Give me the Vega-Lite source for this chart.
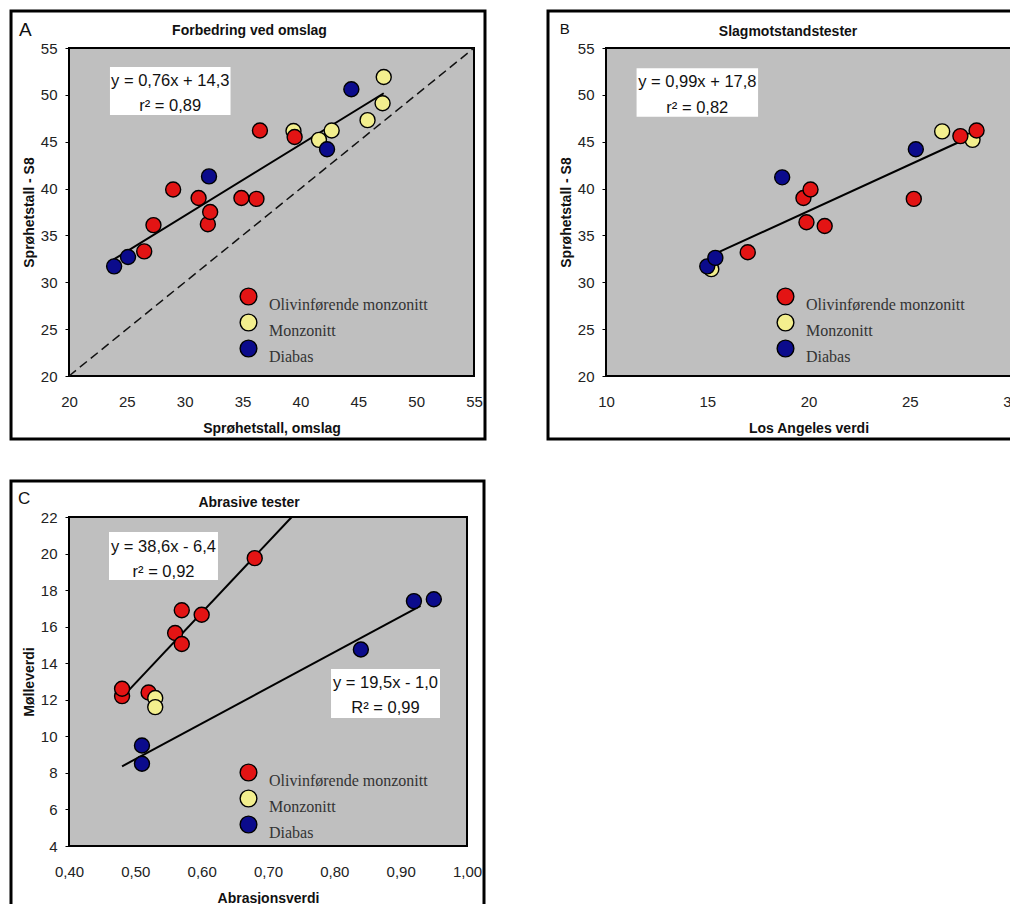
{
  "$schema": "https://vega.github.io/schema/vega-lite/v6.json",
  "padding": {"left": 8, "top": 8, "right": 0, "bottom": 0},
  "background": "white",
  "datasets": {
    "ptsA": [
      {"x": 39.4, "y": 46.15, "bergart": "Monzonitt"},
      {"x": 41.6, "y": 45.2, "bergart": "Monzonitt"},
      {"x": 42.7, "y": 46.2, "bergart": "Monzonitt"},
      {"x": 45.8, "y": 47.3, "bergart": "Monzonitt"},
      {"x": 47.1, "y": 49.1, "bergart": "Monzonitt"},
      {"x": 47.2, "y": 51.9, "bergart": "Monzonitt"},
      {"x": 23.9, "y": 31.7, "bergart": "Diabas"},
      {"x": 25.1, "y": 32.7, "bergart": "Diabas"},
      {"x": 32.1, "y": 41.3, "bergart": "Diabas"},
      {"x": 42.3, "y": 44.2, "bergart": "Diabas"},
      {"x": 44.4, "y": 50.6, "bergart": "Diabas"},
      {"x": 26.5, "y": 33.3, "bergart": "Olivinførende monzonitt"},
      {"x": 27.3, "y": 36.1, "bergart": "Olivinførende monzonitt"},
      {"x": 29.0, "y": 39.9, "bergart": "Olivinførende monzonitt"},
      {"x": 31.2, "y": 39.0, "bergart": "Olivinførende monzonitt"},
      {"x": 32.0, "y": 36.2, "bergart": "Olivinførende monzonitt"},
      {"x": 32.2, "y": 37.5, "bergart": "Olivinførende monzonitt"},
      {"x": 34.9, "y": 39.0, "bergart": "Olivinførende monzonitt"},
      {"x": 36.2, "y": 38.9, "bergart": "Olivinførende monzonitt"},
      {"x": 36.5, "y": 46.2, "bergart": "Olivinførende monzonitt"},
      {"x": 39.5, "y": 45.5, "bergart": "Olivinførende monzonitt"}
    ],
    "ptsB": [
      {"x": 15.2, "y": 31.4, "bergart": "Monzonitt"},
      {"x": 26.6, "y": 46.1, "bergart": "Monzonitt"},
      {"x": 28.1, "y": 45.2, "bergart": "Monzonitt"},
      {"x": 15.0, "y": 31.7, "bergart": "Diabas"},
      {"x": 15.4, "y": 32.6, "bergart": "Diabas"},
      {"x": 18.7, "y": 41.2, "bergart": "Diabas"},
      {"x": 25.3, "y": 44.2, "bergart": "Diabas"},
      {"x": 17.0, "y": 33.2, "bergart": "Olivinførende monzonitt"},
      {"x": 19.75, "y": 39.0, "bergart": "Olivinførende monzonitt"},
      {"x": 20.1, "y": 39.9, "bergart": "Olivinførende monzonitt"},
      {"x": 19.9, "y": 36.4, "bergart": "Olivinførende monzonitt"},
      {"x": 20.8, "y": 36.0, "bergart": "Olivinførende monzonitt"},
      {"x": 25.2, "y": 38.9, "bergart": "Olivinførende monzonitt"},
      {"x": 27.5, "y": 45.6, "bergart": "Olivinførende monzonitt"},
      {"x": 28.3, "y": 46.2, "bergart": "Olivinførende monzonitt"}
    ],
    "ptsC": [
      {"x": 0.48, "y": 12.2, "bergart": "Olivinførende monzonitt"},
      {"x": 0.48, "y": 12.6, "bergart": "Olivinførende monzonitt"},
      {"x": 0.52, "y": 12.4, "bergart": "Olivinførende monzonitt"},
      {"x": 0.56, "y": 15.65, "bergart": "Olivinførende monzonitt"},
      {"x": 0.57, "y": 16.9, "bergart": "Olivinførende monzonitt"},
      {"x": 0.57, "y": 15.05, "bergart": "Olivinførende monzonitt"},
      {"x": 0.60, "y": 16.65, "bergart": "Olivinførende monzonitt"},
      {"x": 0.68, "y": 19.75, "bergart": "Olivinførende monzonitt"},
      {"x": 0.53, "y": 12.1, "bergart": "Monzonitt"},
      {"x": 0.53, "y": 11.6, "bergart": "Monzonitt"},
      {"x": 0.51, "y": 9.5, "bergart": "Diabas"},
      {"x": 0.51, "y": 8.5, "bergart": "Diabas"},
      {"x": 0.84, "y": 14.75, "bergart": "Diabas"},
      {"x": 0.92, "y": 17.4, "bergart": "Diabas"},
      {"x": 0.95, "y": 17.5, "bergart": "Diabas"}
    ],
    "diagA": [{"x": 20, "y": 20}, {"x": 55, "y": 55}],
    "fitA": [{"x": 23.8, "y": 32.39}, {"x": 47.2, "y": 50.17}],
    "fitB": [{"x": 15.4, "y": 33.05}, {"x": 28.3, "y": 45.82}],
    "fitC": [
      {"x": 0.48, "y": 12.13, "serie": "Olivinførende monzonitt"},
      {"x": 0.7358, "y": 22.0, "serie": "Olivinførende monzonitt"},
      {"x": 0.48, "y": 8.36, "serie": "Diabas"},
      {"x": 0.93, "y": 17.135, "serie": "Diabas"}
    ]
  },
  "vconcat": [
    {
      "hconcat": [
        {
          "width": 405,
          "height": 328,
          "layer": [
            {
              "data": {"values": [{}]},
              "mark": {"type": "rect", "filled": false, "stroke": "#000", "strokeWidth": 3},
              "encoding": {
                "x": {"datum": 14.99, "type": "quantitative", "scale": {"domain": [20, 55], "nice": false, "zero": false}, "axis": {"title": "Sprøhetstall, omslag", "values": [20, 25, 30, 35, 40, 45, 50, 55]}},
                "x2": {"datum": 55.95},
                "y": {"datum": 58.95, "type": "quantitative", "scale": {"domain": [20, 55], "nice": false, "zero": false}, "axis": {"title": "Sprøhetstall - S8", "values": [20, 25, 30, 35, 40, 45, 50, 55]}},
                "y2": {"datum": 13.28}
              }
            },
            {
              "data": {"values": [{}]},
              "mark": {"type": "text", "text": "A", "font": "Liberation Sans", "fontSize": 19, "align": "left", "baseline": "middle", "color": "#111"},
              "encoding": {
                "x": {"datum": 15.68, "type": "quantitative", "scale": {"domain": [20, 55], "nice": false, "zero": false}, "axis": {"title": "Sprøhetstall, omslag", "values": [20, 25, 30, 35, 40, 45, 50, 55]}},
                "y": {"datum": 56.92, "type": "quantitative", "scale": {"domain": [20, 55], "nice": false, "zero": false}, "axis": {"title": "Sprøhetstall - S8", "values": [20, 25, 30, 35, 40, 45, 50, 55]}}
              }
            },
            {
              "data": {"values": [{}]},
              "mark": {"type": "text", "text": "Forbedring ved omslag", "font": "Liberation Sans", "fontSize": 14, "fontWeight": "bold", "align": "center", "baseline": "middle", "color": "#111"},
              "encoding": {
                "x": {"datum": 35.6, "type": "quantitative", "scale": {"domain": [20, 55], "nice": false, "zero": false}, "axis": {"title": "Sprøhetstall, omslag", "values": [20, 25, 30, 35, 40, 45, 50, 55]}},
                "y": {"datum": 56.8, "type": "quantitative", "scale": {"domain": [20, 55], "nice": false, "zero": false}, "axis": {"title": "Sprøhetstall - S8", "values": [20, 25, 30, 35, 40, 45, 50, 55]}}
              }
            },
            {
              "data": {"name": "diagA"},
              "mark": {"type": "line", "color": "#111", "strokeWidth": 1.5, "strokeDash": [9, 5]},
              "encoding": {
                "x": {"field": "x", "type": "quantitative", "scale": {"domain": [20, 55], "nice": false, "zero": false}, "axis": {"title": "Sprøhetstall, omslag", "values": [20, 25, 30, 35, 40, 45, 50, 55]}},
                "y": {"field": "y", "type": "quantitative", "scale": {"domain": [20, 55], "nice": false, "zero": false}, "axis": {"title": "Sprøhetstall - S8", "values": [20, 25, 30, 35, 40, 45, 50, 55]}}
              }
            },
            {
              "data": {"name": "fitA"},
              "mark": {"type": "line", "color": "#000", "strokeWidth": 2},
              "encoding": {
                "x": {"field": "x", "type": "quantitative", "scale": {"domain": [20, 55], "nice": false, "zero": false}, "axis": {"title": "Sprøhetstall, omslag", "values": [20, 25, 30, 35, 40, 45, 50, 55]}},
                "y": {"field": "y", "type": "quantitative", "scale": {"domain": [20, 55], "nice": false, "zero": false}, "axis": {"title": "Sprøhetstall - S8", "values": [20, 25, 30, 35, 40, 45, 50, 55]}}
              }
            },
            {
              "data": {"values": [{}]},
              "mark": {"type": "rect", "fill": "#fff", "stroke": null},
              "encoding": {
                "x": {"datum": 23.54, "type": "quantitative", "scale": {"domain": [20, 55], "nice": false, "zero": false}, "axis": {"title": "Sprøhetstall, omslag", "values": [20, 25, 30, 35, 40, 45, 50, 55]}},
                "x2": {"datum": 33.96},
                "y": {"datum": 52.97, "type": "quantitative", "scale": {"domain": [20, 55], "nice": false, "zero": false}, "axis": {"title": "Sprøhetstall - S8", "values": [20, 25, 30, 35, 40, 45, 50, 55]}},
                "y2": {"datum": 47.85}
              }
            },
            {
              "data": {"values": [{}]},
              "mark": {"type": "text", "text": "y = 0,76x + 14,3", "font": "Liberation Sans", "fontSize": 16.5, "align": "center", "baseline": "middle", "color": "#111"},
              "encoding": {
                "x": {"datum": 28.75, "type": "quantitative", "scale": {"domain": [20, 55], "nice": false, "zero": false}, "axis": {"title": "Sprøhetstall, omslag", "values": [20, 25, 30, 35, 40, 45, 50, 55]}},
                "y": {"datum": 51.53, "type": "quantitative", "scale": {"domain": [20, 55], "nice": false, "zero": false}, "axis": {"title": "Sprøhetstall - S8", "values": [20, 25, 30, 35, 40, 45, 50, 55]}}
              }
            },
            {
              "data": {"values": [{}]},
              "mark": {"type": "text", "text": "r² = 0,89", "font": "Liberation Sans", "fontSize": 16.5, "align": "center", "baseline": "middle", "color": "#111"},
              "encoding": {
                "x": {"datum": 28.75, "type": "quantitative", "scale": {"domain": [20, 55], "nice": false, "zero": false}, "axis": {"title": "Sprøhetstall, omslag", "values": [20, 25, 30, 35, 40, 45, 50, 55]}},
                "y": {"datum": 48.81, "type": "quantitative", "scale": {"domain": [20, 55], "nice": false, "zero": false}, "axis": {"title": "Sprøhetstall - S8", "values": [20, 25, 30, 35, 40, 45, 50, 55]}}
              }
            },
            {
              "data": {"name": "ptsA"},
              "mark": {"type": "point", "filled": true, "size": 225, "stroke": "#000", "strokeWidth": 1.4, "opacity": 1},
              "encoding": {
                "x": {"field": "x", "type": "quantitative", "scale": {"domain": [20, 55], "nice": false, "zero": false}, "axis": {"title": "Sprøhetstall, omslag", "values": [20, 25, 30, 35, 40, 45, 50, 55]}},
                "y": {"field": "y", "type": "quantitative", "scale": {"domain": [20, 55], "nice": false, "zero": false}, "axis": {"title": "Sprøhetstall - S8", "values": [20, 25, 30, 35, 40, 45, 50, 55]}},
                "color": {
                  "field": "bergart", "type": "nominal",
                  "scale": {"domain": ["Olivinførende monzonitt", "Monzonitt", "Diabas"], "range": ["#e31414", "#f3ef8e", "#0b0b8c"]},
                  "legend": {"title": " ", "titleOrient": "right", "titlePadding": 35, "titleFontSize": 10, "orient": "bottom-right", "offset": 11}
                }
              }
            }
          ]
        },
        {
          "width": 405,
          "height": 328,
          "layer": [
            {
              "data": {"values": [{}]},
              "mark": {"type": "rect", "filled": false, "stroke": "#000", "strokeWidth": 3},
              "encoding": {
                "x": {"datum": 7.136, "type": "quantitative", "scale": {"domain": [10, 30], "nice": false, "zero": false}, "axis": {"title": "Los Angeles verdi", "values": [10, 15, 20, 25, 30]}},
                "x2": {"datum": 30.543},
                "y": {"datum": 58.95, "type": "quantitative", "scale": {"domain": [20, 55], "nice": false, "zero": false}, "axis": {"title": "Sprøhetstall - S8", "values": [20, 25, 30, 35, 40, 45, 50, 55]}},
                "y2": {"datum": 13.28}
              }
            },
            {
              "data": {"values": [{}]},
              "mark": {"type": "text", "text": "B", "font": "Liberation Sans", "fontSize": 15, "align": "left", "baseline": "middle", "color": "#111"},
              "encoding": {
                "x": {"datum": 7.71, "type": "quantitative", "scale": {"domain": [10, 30], "nice": false, "zero": false}, "axis": {"title": "Los Angeles verdi", "values": [10, 15, 20, 25, 30]}},
                "y": {"datum": 57.03, "type": "quantitative", "scale": {"domain": [20, 55], "nice": false, "zero": false}, "axis": {"title": "Sprøhetstall - S8", "values": [20, 25, 30, 35, 40, 45, 50, 55]}}
              }
            },
            {
              "data": {"values": [{}]},
              "mark": {"type": "text", "text": "Slagmotstandstester", "font": "Liberation Sans", "fontSize": 14, "fontWeight": "bold", "align": "center", "baseline": "middle", "color": "#111"},
              "encoding": {
                "x": {"datum": 18.99, "type": "quantitative", "scale": {"domain": [10, 30], "nice": false, "zero": false}, "axis": {"title": "Los Angeles verdi", "values": [10, 15, 20, 25, 30]}},
                "y": {"datum": 56.76, "type": "quantitative", "scale": {"domain": [20, 55], "nice": false, "zero": false}, "axis": {"title": "Sprøhetstall - S8", "values": [20, 25, 30, 35, 40, 45, 50, 55]}}
              }
            },
            {
              "data": {"name": "fitB"},
              "mark": {"type": "line", "color": "#000", "strokeWidth": 2},
              "encoding": {
                "x": {"field": "x", "type": "quantitative", "scale": {"domain": [10, 30], "nice": false, "zero": false}, "axis": {"title": "Los Angeles verdi", "values": [10, 15, 20, 25, 30]}},
                "y": {"field": "y", "type": "quantitative", "scale": {"domain": [20, 55], "nice": false, "zero": false}, "axis": {"title": "Sprøhetstall - S8", "values": [20, 25, 30, 35, 40, 45, 50, 55]}}
              }
            },
            {
              "data": {"values": [{}]},
              "mark": {"type": "rect", "fill": "#fff", "stroke": null},
              "encoding": {
                "x": {"datum": 11.51, "type": "quantitative", "scale": {"domain": [10, 30], "nice": false, "zero": false}, "axis": {"title": "Los Angeles verdi", "values": [10, 15, 20, 25, 30]}},
                "x2": {"datum": 17.51},
                "y": {"datum": 52.83, "type": "quantitative", "scale": {"domain": [20, 55], "nice": false, "zero": false}, "axis": {"title": "Sprøhetstall - S8", "values": [20, 25, 30, 35, 40, 45, 50, 55]}},
                "y2": {"datum": 47.67}
              }
            },
            {
              "data": {"values": [{}]},
              "mark": {"type": "text", "text": "y = 0,99x + 17,8", "font": "Liberation Sans", "fontSize": 16.5, "align": "center", "baseline": "middle", "color": "#111"},
              "encoding": {
                "x": {"datum": 14.51, "type": "quantitative", "scale": {"domain": [10, 30], "nice": false, "zero": false}, "axis": {"title": "Los Angeles verdi", "values": [10, 15, 20, 25, 30]}},
                "y": {"datum": 51.4, "type": "quantitative", "scale": {"domain": [20, 55], "nice": false, "zero": false}, "axis": {"title": "Sprøhetstall - S8", "values": [20, 25, 30, 35, 40, 45, 50, 55]}}
              }
            },
            {
              "data": {"values": [{}]},
              "mark": {"type": "text", "text": "r² = 0,82", "font": "Liberation Sans", "fontSize": 16.5, "align": "center", "baseline": "middle", "color": "#111"},
              "encoding": {
                "x": {"datum": 14.51, "type": "quantitative", "scale": {"domain": [10, 30], "nice": false, "zero": false}, "axis": {"title": "Los Angeles verdi", "values": [10, 15, 20, 25, 30]}},
                "y": {"datum": 48.6, "type": "quantitative", "scale": {"domain": [20, 55], "nice": false, "zero": false}, "axis": {"title": "Sprøhetstall - S8", "values": [20, 25, 30, 35, 40, 45, 50, 55]}}
              }
            },
            {
              "data": {"name": "ptsB"},
              "mark": {"type": "point", "filled": true, "size": 225, "stroke": "#000", "strokeWidth": 1.4, "opacity": 1},
              "encoding": {
                "x": {"field": "x", "type": "quantitative", "scale": {"domain": [10, 30], "nice": false, "zero": false}, "axis": {"title": "Los Angeles verdi", "values": [10, 15, 20, 25, 30]}},
                "y": {"field": "y", "type": "quantitative", "scale": {"domain": [20, 55], "nice": false, "zero": false}, "axis": {"title": "Sprøhetstall - S8", "values": [20, 25, 30, 35, 40, 45, 50, 55]}},
                "color": {
                  "field": "bergart", "type": "nominal",
                  "scale": {"domain": ["Olivinførende monzonitt", "Monzonitt", "Diabas"], "range": ["#e31414", "#f3ef8e", "#0b0b8c"]},
                  "legend": {"title": " ", "titleOrient": "right", "titlePadding": 35, "titleFontSize": 10, "orient": "bottom-right", "offset": 11}
                }
              }
            }
          ]
        }
      ],
      "spacing": 57,
      "resolve": {"scale": {"color": "independent"}, "legend": {"color": "independent"}}
    },
    {
      "width": 398,
      "height": 329,
      "layer": [
        {
          "data": {"values": [{}]},
          "mark": {"type": "rect", "filled": false, "stroke": "#000", "strokeWidth": 3},
          "encoding": {
            "x": {"datum": 0.31256, "type": "quantitative", "scale": {"domain": [0.4, 1.0], "nice": false, "zero": false}, "axis": {"title": "Abrasjonsverdi", "values": [0.4, 0.5, 0.6, 0.7, 0.8, 0.9, 1.0], "labelExpr": "replace(format(datum.value, '.2f'), '.', ',')"}},
            "x2": {"datum": 1.02563},
            "y": {"datum": 23.97, "type": "quantitative", "scale": {"domain": [4, 22], "nice": false, "zero": false}, "axis": {"title": "Mølleverdi", "values": [4, 6, 8, 10, 12, 14, 16, 18, 20, 22]}},
            "y2": {"datum": 0.5533}
          }
        },
        {
          "data": {"values": [{}]},
          "mark": {"type": "text", "text": "C", "font": "Liberation Sans", "fontSize": 17, "align": "left", "baseline": "middle", "color": "#111"},
          "encoding": {
            "x": {"datum": 0.3231, "type": "quantitative", "scale": {"domain": [0.4, 1.0], "nice": false, "zero": false}, "axis": {"title": "Abrasjonsverdi", "values": [0.4, 0.5, 0.6, 0.7, 0.8, 0.9, 1.0], "labelExpr": "replace(format(datum.value, '.2f'), '.', ',')"}},
            "y": {"datum": 23.01, "type": "quantitative", "scale": {"domain": [4, 22], "nice": false, "zero": false}, "axis": {"title": "Mølleverdi", "values": [4, 6, 8, 10, 12, 14, 16, 18, 20, 22]}}
          }
        },
        {
          "data": {"values": [{}]},
          "mark": {"type": "text", "text": "Abrasive tester", "font": "Liberation Sans", "fontSize": 14, "fontWeight": "bold", "align": "center", "baseline": "middle", "color": "#111"},
          "encoding": {
            "x": {"datum": 0.6714, "type": "quantitative", "scale": {"domain": [0.4, 1.0], "nice": false, "zero": false}, "axis": {"title": "Abrasjonsverdi", "values": [0.4, 0.5, 0.6, 0.7, 0.8, 0.9, 1.0], "labelExpr": "replace(format(datum.value, '.2f'), '.', ',')"}},
            "y": {"datum": 22.79, "type": "quantitative", "scale": {"domain": [4, 22], "nice": false, "zero": false}, "axis": {"title": "Mølleverdi", "values": [4, 6, 8, 10, 12, 14, 16, 18, 20, 22]}}
          }
        },
        {
          "data": {"name": "fitC"},
          "mark": {"type": "line", "color": "#000", "strokeWidth": 2},
          "encoding": {
            "x": {"field": "x", "type": "quantitative", "scale": {"domain": [0.4, 1.0], "nice": false, "zero": false}, "axis": {"title": "Abrasjonsverdi", "values": [0.4, 0.5, 0.6, 0.7, 0.8, 0.9, 1.0], "labelExpr": "replace(format(datum.value, '.2f'), '.', ',')"}},
            "y": {"field": "y", "type": "quantitative", "scale": {"domain": [4, 22], "nice": false, "zero": false}, "axis": {"title": "Mølleverdi", "values": [4, 6, 8, 10, 12, 14, 16, 18, 20, 22]}},
            "detail": {"field": "serie", "type": "nominal"}
          }
        },
        {
          "data": {"values": [{}]},
          "mark": {"type": "rect", "fill": "#fff", "stroke": null},
          "encoding": {
            "x": {"datum": 0.4603, "type": "quantitative", "scale": {"domain": [0.4, 1.0], "nice": false, "zero": false}, "axis": {"title": "Abrasjonsverdi", "values": [0.4, 0.5, 0.6, 0.7, 0.8, 0.9, 1.0], "labelExpr": "replace(format(datum.value, '.2f'), '.', ',')"}},
            "x2": {"datum": 0.6246},
            "y": {"datum": 21.18, "type": "quantitative", "scale": {"domain": [4, 22], "nice": false, "zero": false}, "axis": {"title": "Mølleverdi", "values": [4, 6, 8, 10, 12, 14, 16, 18, 20, 22]}},
            "y2": {"datum": 18.55}
          }
        },
        {
          "data": {"values": [{}]},
          "mark": {"type": "text", "text": "y = 38,6x - 6,4", "font": "Liberation Sans", "fontSize": 16.5, "align": "center", "baseline": "middle", "color": "#111"},
          "encoding": {
            "x": {"datum": 0.5425, "type": "quantitative", "scale": {"domain": [0.4, 1.0], "nice": false, "zero": false}, "axis": {"title": "Abrasjonsverdi", "values": [0.4, 0.5, 0.6, 0.7, 0.8, 0.9, 1.0], "labelExpr": "replace(format(datum.value, '.2f'), '.', ',')"}},
            "y": {"datum": 20.38, "type": "quantitative", "scale": {"domain": [4, 22], "nice": false, "zero": false}, "axis": {"title": "Mølleverdi", "values": [4, 6, 8, 10, 12, 14, 16, 18, 20, 22]}}
          }
        },
        {
          "data": {"values": [{}]},
          "mark": {"type": "text", "text": "r² = 0,92", "font": "Liberation Sans", "fontSize": 16.5, "align": "center", "baseline": "middle", "color": "#111"},
          "encoding": {
            "x": {"datum": 0.5425, "type": "quantitative", "scale": {"domain": [0.4, 1.0], "nice": false, "zero": false}, "axis": {"title": "Abrasjonsverdi", "values": [0.4, 0.5, 0.6, 0.7, 0.8, 0.9, 1.0], "labelExpr": "replace(format(datum.value, '.2f'), '.', ',')"}},
            "y": {"datum": 19.01, "type": "quantitative", "scale": {"domain": [4, 22], "nice": false, "zero": false}, "axis": {"title": "Mølleverdi", "values": [4, 6, 8, 10, 12, 14, 16, 18, 20, 22]}}
          }
        },
        {
          "data": {"values": [{}]},
          "mark": {"type": "rect", "fill": "#fff", "stroke": null},
          "encoding": {
            "x": {"datum": 0.795, "type": "quantitative", "scale": {"domain": [0.4, 1.0], "nice": false, "zero": false}, "axis": {"title": "Abrasjonsverdi", "values": [0.4, 0.5, 0.6, 0.7, 0.8, 0.9, 1.0], "labelExpr": "replace(format(datum.value, '.2f'), '.', ',')"}},
            "x2": {"datum": 0.9593},
            "y": {"datum": 13.68, "type": "quantitative", "scale": {"domain": [4, 22], "nice": false, "zero": false}, "axis": {"title": "Mølleverdi", "values": [4, 6, 8, 10, 12, 14, 16, 18, 20, 22]}},
            "y2": {"datum": 11.0}
          }
        },
        {
          "data": {"values": [{}]},
          "mark": {"type": "text", "text": "y = 19,5x - 1,0", "font": "Liberation Sans", "fontSize": 16.5, "align": "center", "baseline": "middle", "color": "#111"},
          "encoding": {
            "x": {"datum": 0.8771, "type": "quantitative", "scale": {"domain": [0.4, 1.0], "nice": false, "zero": false}, "axis": {"title": "Abrasjonsverdi", "values": [0.4, 0.5, 0.6, 0.7, 0.8, 0.9, 1.0], "labelExpr": "replace(format(datum.value, '.2f'), '.', ',')"}},
            "y": {"datum": 12.9, "type": "quantitative", "scale": {"domain": [4, 22], "nice": false, "zero": false}, "axis": {"title": "Mølleverdi", "values": [4, 6, 8, 10, 12, 14, 16, 18, 20, 22]}}
          }
        },
        {
          "data": {"values": [{}]},
          "mark": {"type": "text", "text": "R² = 0,99", "font": "Liberation Sans", "fontSize": 16.5, "align": "center", "baseline": "middle", "color": "#111"},
          "encoding": {
            "x": {"datum": 0.8771, "type": "quantitative", "scale": {"domain": [0.4, 1.0], "nice": false, "zero": false}, "axis": {"title": "Abrasjonsverdi", "values": [0.4, 0.5, 0.6, 0.7, 0.8, 0.9, 1.0], "labelExpr": "replace(format(datum.value, '.2f'), '.', ',')"}},
            "y": {"datum": 11.53, "type": "quantitative", "scale": {"domain": [4, 22], "nice": false, "zero": false}, "axis": {"title": "Mølleverdi", "values": [4, 6, 8, 10, 12, 14, 16, 18, 20, 22]}}
          }
        },
        {
          "data": {"name": "ptsC"},
          "mark": {"type": "point", "filled": true, "size": 225, "stroke": "#000", "strokeWidth": 1.4, "opacity": 1},
          "encoding": {
            "x": {"field": "x", "type": "quantitative", "scale": {"domain": [0.4, 1.0], "nice": false, "zero": false}, "axis": {"title": "Abrasjonsverdi", "values": [0.4, 0.5, 0.6, 0.7, 0.8, 0.9, 1.0], "labelExpr": "replace(format(datum.value, '.2f'), '.', ',')"}},
            "y": {"field": "y", "type": "quantitative", "scale": {"domain": [4, 22], "nice": false, "zero": false}, "axis": {"title": "Mølleverdi", "values": [4, 6, 8, 10, 12, 14, 16, 18, 20, 22]}},
            "color": {
              "field": "bergart", "type": "nominal",
              "scale": {"domain": ["Olivinførende monzonitt", "Monzonitt", "Diabas"], "range": ["#e31414", "#f3ef8e", "#0b0b8c"]},
              "legend": {"title": " ", "titleOrient": "right", "titlePadding": 34, "titleFontSize": 10, "orient": "bottom-right", "offset": 5}
            }
          }
        }
      ]
    }
  ],
  "spacing": 36,
  "resolve": {"scale": {"color": "independent"}, "legend": {"color": "independent"}},
  "config": {
    "view": {"fill": "#bfbfbf", "stroke": "#000", "strokeWidth": 2},
    "axis": {
      "domain": false, "grid": false, "labelFlush": false, "labelOverlap": false,
      "labelFont": "Liberation Sans", "labelFontSize": 15, "labelColor": "#222",
      "titleFont": "Liberation Sans", "titleFontSize": 14, "titleFontWeight": "bold", "titleColor": "#111",
      "tickColor": "#000"
    },
    "axisX": {"ticks": false, "labelPadding": 18, "titlePadding": 12},
    "axisY": {"tickSize": 4, "labelPadding": 8, "titlePadding": 4},
    "legend": {
      "labelFont": "Liberation Serif", "labelFontSize": 16, "labelColor": "#333", "labelBaseline": "top",
      "symbolType": "circle", "symbolSize": 280, "symbolStrokeColor": "#000", "symbolStrokeWidth": 1.4, "symbolOpacity": 1,
      "rowPadding": -2, "labelOffset": 11
    }
  }
}
